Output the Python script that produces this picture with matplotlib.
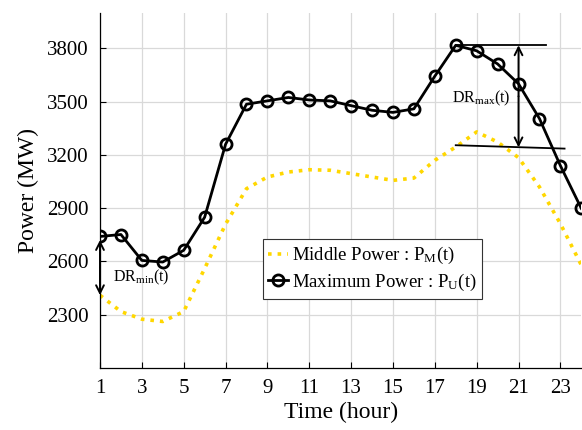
import numpy as np
import matplotlib
matplotlib.use('Agg')
import matplotlib.pyplot as plt

# hourly data (MW)
hours = list(range(1, 25))
p_max = [2741, 2752, 2606, 2597, 2663, 2849, 3260, 3486, 3505, 3524, 3510, 3505,
         3478, 3452, 3440, 3460, 3644, 3818, 3787, 3713, 3601, 3405, 3140, 2899]
p_mid = [2410, 2318, 2275, 2262, 2318, 2560, 2810, 3010, 3076, 3104, 3117, 3114,
         3095, 3076, 3057, 3070, 3170, 3245, 3330, 3273, 3185, 3020, 2813, 2580]
x_ticks = list(range(1, 24, 2))
y_ticks = [2300, 2600, 2900, 3200, 3500, 3800]

plt.rcParams['font.family'] = ['Liberation Serif', 'DejaVu Serif']
plt.rcParams['mathtext.fontset'] = 'custom'
plt.rcParams['mathtext.rm'] = 'Liberation Serif'
plt.rcParams['mathtext.it'] = 'Liberation Serif'

fig = plt.figure(figsize=(5.82, 4.30), dpi=100)
ax = fig.add_axes([0.1718, 0.1442, 0.827, 0.8256])

ax.plot(hours, p_mid, ':', color='#FFD700', lw=2.6, label=r'Middle Power : P$_{\mathrm{M}}$(t)')
ax.plot(hours, p_max, '-o', color='black', lw=2.0, ms=8, mfc='none', mew=2.0,
        label=r'Maximum Power : P$_{\mathrm{U}}$(t)')


def double_arrow(x, y0, y1):
    # two single-headed arrows from the middle so both heads always show
    ym = (y0 + y1) / 2
    for yend in (y0, y1):
        an = ax.annotate('', xy=(x, yend), xytext=(x, ym), annotation_clip=False,
                         arrowprops=dict(arrowstyle='->', color='black', lw=1.4,
                                         mutation_scale=14, shrinkA=0, shrinkB=0),
                         zorder=6)
        an.arrow_patch.set_clip_on(False)


# DR max annotation
ax.plot([18, 22.3], [p_max[17], p_max[17]], color='black', lw=1.3)
ax.plot([18, 23.2], [3255, 3236], color='black', lw=1.3)
double_arrow(21, p_max[17], 3243)
ax.text(17.8, 3520, r'DR$_{\mathrm{max}}$(t)', fontsize=11.5, va='center', ha='left')

# DR min annotation
double_arrow(1, p_max[0] - 20, p_mid[0])
ax.text(1.6, 2510, r'DR$_{\mathrm{min}}$(t)', fontsize=11.5, va='center', ha='left')

ax.set_xlim(1, 24)
ax.set_ylim(2000, 4000)
ax.set_xticks(x_ticks)
ax.set_yticks(y_ticks)
ax.tick_params(direction='in', labelsize=15, length=4, width=0.8, pad=8)
ax.grid(True, color='#d9d9d9', lw=0.9)
ax.set_axisbelow(True)
for s in ['top', 'right']:
    ax.spines[s].set_visible(False)
for s in ['left', 'bottom']:
    ax.spines[s].set_linewidth(0.9)
ax.set_xlabel('Time (hour)', fontsize=17, labelpad=3)
ax.set_ylabel('Power (MW)', fontsize=17, labelpad=6)

leg = ax.legend(loc='upper left', bbox_to_anchor=(0.3378, 0.362), fontsize=13.5,
                frameon=True, fancybox=False, edgecolor='#333333', framealpha=1,
                handlelength=1.05, handletextpad=0.2, borderpad=0.3, labelspacing=0.3,
                borderaxespad=0)
leg.get_frame().set_linewidth(0.8)

fig.savefig('out.png', dpi=100)
